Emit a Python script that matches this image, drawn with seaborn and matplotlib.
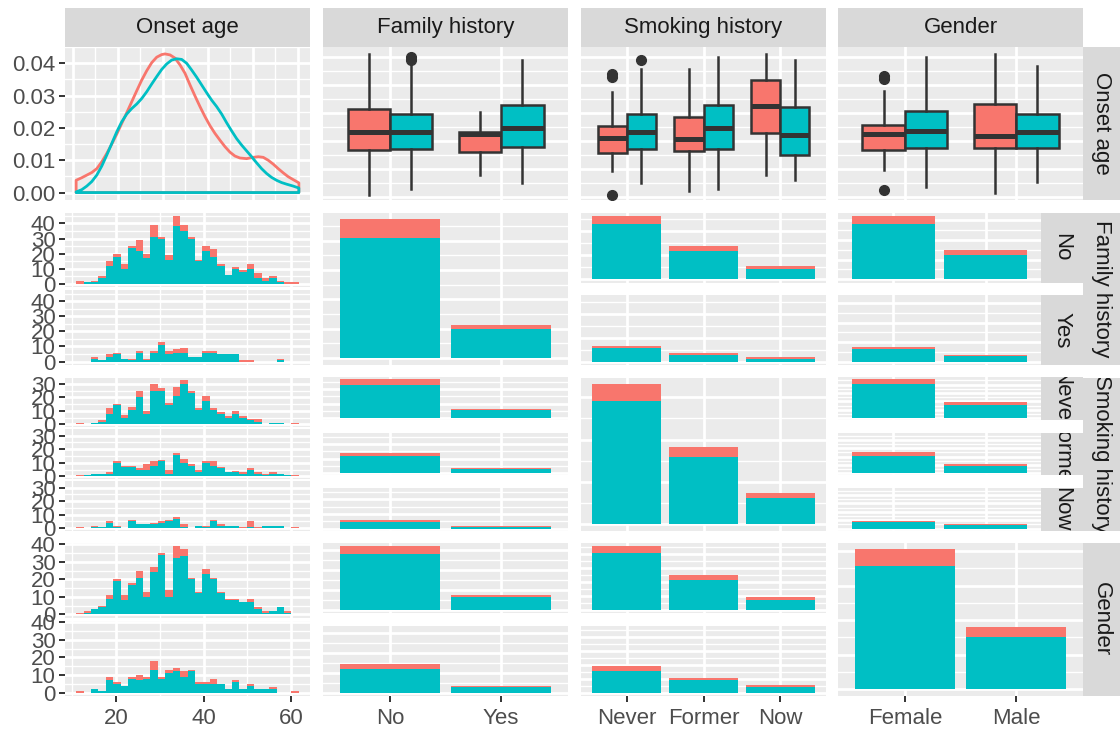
import numpy as np
import pandas as pd
import matplotlib
matplotlib.use("Agg")
import matplotlib.pyplot as plt
from matplotlib.ticker import (MultipleLocator, FixedLocator, NullLocator,
                               FormatStrFormatter, FixedFormatter)
import seaborn as sns

plt.rcParams["font.family"] = ["Liberation Sans", "DejaVu Sans"]

# ------------------------------------------------------------------ data
status_levels = ["case", "control"]
palette = {"case": "#F8766D", "control": "#00BFC4"}

variables = ["Onset age", "Family history", "Smoking history", "Gender"]
family_levels = ["No", "Yes"]
smoking_levels = ["Never", "Former", "Now"]
gender_levels = ["Female", "Male"]

# onset-age histograms: 30 bins spanning this range
age_bin_lo, age_bin_hi = 10.86, 61.80

hist_famNo_case = [2, 0, 1, 1, 3, 2, 3, 1, 7, 3, 8, 1, 3, 7, 4, 1, 1, 3, 5, 1, 0, 1, 1, 3, 3, 2, 1, 1, 1, 1]
hist_famNo_control = [0, 1, 1, 4, 12, 18, 10, 24, 22, 17, 31, 30, 16, 38, 35, 30, 15, 22, 18, 12, 6, 10, 8, 10, 4, 2, 4, 1, 0, 0]
hist_famYes_case = [0, 0, 1, 0, 2, 1, 0, 1, 1, 1, 1, 2, 2, 2, 3, 0, 0, 1, 1, 0, 0, 0, 1, 1, 0, 0, 0, 1, 0, 0]
hist_famYes_control = [0, 0, 2, 1, 3, 5, 2, 1, 6, 1, 6, 11, 5, 6, 6, 3, 3, 6, 6, 5, 5, 5, 0, 0, 0, 0, 0, 1, 0, 0]

hist_never_case = [1, 0, 0, 1, 4, 1, 2, 2, 5, 2, 5, 2, 2, 7, 3, 2, 1, 4, 1, 1, 1, 2, 1, 1, 2, 0, 0, 0, 0, 1]
hist_never_control = [0, 0, 1, 2, 8, 14, 5, 11, 20, 8, 25, 25, 14, 21, 30, 23, 11, 17, 11, 8, 5, 8, 5, 3, 2, 0, 1, 1, 0, 0]
hist_former_case = [1, 0, 0, 0, 1, 1, 1, 1, 1, 4, 3, 1, 3, 1, 3, 1, 2, 1, 3, 1, 0, 1, 1, 1, 1, 1, 1, 0, 0, 1]
hist_former_control = [0, 1, 2, 2, 2, 10, 7, 7, 5, 5, 8, 11, 2, 16, 10, 8, 3, 10, 8, 6, 3, 3, 2, 5, 2, 1, 2, 2, 1, 0]
hist_now_case = [1, 0, 1, 0, 1, 1, 0, 1, 0, 0, 1, 1, 1, 1, 2, 0, 0, 1, 1, 1, 0, 0, 1, 4, 1, 0, 0, 0, 0, 1]
hist_now_control = [0, 0, 1, 1, 4, 1, 0, 5, 3, 3, 3, 4, 5, 7, 1, 0, 2, 1, 5, 2, 2, 2, 0, 1, 0, 2, 2, 2, 0, 0]

hist_female_case = [1, 1, 0, 1, 2, 1, 3, 1, 4, 3, 3, 1, 4, 7, 4, 1, 1, 3, 1, 1, 1, 1, 0, 2, 1, 1, 0, 0, 1, 0]
hist_female_control = [0, 1, 3, 4, 9, 19, 8, 17, 21, 10, 24, 34, 10, 32, 33, 20, 12, 23, 20, 12, 8, 8, 7, 7, 3, 1, 2, 4, 1, 0]
hist_male_case = [1, 0, 0, 0, 2, 1, 0, 1, 3, 1, 5, 1, 2, 2, 3, 1, 1, 1, 3, 0, 0, 1, 0, 1, 0, 0, 1, 0, 0, 1]
hist_male_control = [0, 0, 2, 1, 7, 5, 4, 8, 7, 8, 13, 8, 11, 12, 9, 12, 5, 5, 5, 5, 2, 6, 2, 4, 2, 2, 2, 0, 0, 0]

# onset-age density curves
dens_case_age = [10.77, 12.03, 13.13, 14.24, 15.35, 16.46, 17.57, 18.68, 19.79, 20.89, 22.00,
                 23.11, 24.22, 25.33, 26.44, 27.55, 28.66, 29.76, 30.50, 31.61, 32.72, 33.83,
                 34.94, 36.05, 37.15, 38.26, 39.37, 40.48, 41.59, 42.70, 43.81, 44.92, 46.02,
                 47.13, 48.61, 50.09, 51.20, 52.31, 53.41, 54.52, 55.63, 56.74, 57.85, 58.96, 60.21]
dens_case_val = [0.0038, 0.0046, 0.0054, 0.0062, 0.0074, 0.0095, 0.0121, 0.0150, 0.0181, 0.0214,
                 0.0247, 0.0281, 0.0315, 0.0348, 0.0377, 0.0402, 0.0419, 0.0427, 0.0429, 0.0426,
                 0.0416, 0.0395, 0.0369, 0.0333, 0.0299, 0.0266, 0.0235, 0.0207, 0.0183, 0.0162,
                 0.0142, 0.0125, 0.0113, 0.0107, 0.0105, 0.0109, 0.0111, 0.0109, 0.0100, 0.0088,
                 0.0074, 0.0061, 0.0049, 0.0040, 0.0030]
dens_control_age = [10.77, 12.03, 13.13, 14.24, 15.35, 16.46, 17.57, 18.68, 19.79, 20.89, 22.00,
                    23.11, 24.22, 25.33, 26.44, 27.55, 28.66, 29.76, 30.87, 31.98, 33.09, 34.20,
                    35.31, 36.42, 37.52, 38.63, 39.74, 40.85, 41.96, 43.07, 44.18, 45.28, 46.39,
                    47.50, 48.61, 49.72, 50.83, 51.94, 53.05, 54.15, 55.26, 56.37, 57.48, 58.96, 60.21]
dens_control_val = [0.0002, 0.0009, 0.0020, 0.0034, 0.0054, 0.0082, 0.0116, 0.0152, 0.0188, 0.0219,
                    0.0243, 0.0260, 0.0274, 0.0291, 0.0312, 0.0336, 0.0359, 0.0381, 0.0398, 0.0410,
                    0.0414, 0.0412, 0.0400, 0.0379, 0.0357, 0.0333, 0.0309, 0.0286, 0.0266, 0.0243,
                    0.0216, 0.0191, 0.0167, 0.0147, 0.0129, 0.0111, 0.0092, 0.0074, 0.0059, 0.0047,
                    0.0038, 0.0031, 0.0026, 0.0020, 0.0014]

# onset-age box statistics: (lower whisker, Q1, median, Q3, upper whisker)
box_family_case = [(10.8, 27.0, 33.2, 41.5, 60.9), (18.1, 26.2, 32.6, 33.4, 40.3)]
box_family_control = [(13.1, 27.1, 33.4, 39.7, 56.8), (14.9, 28.0, 34.8, 42.7, 58.7)]
out_family_case = [[], []]
out_family_control = [[58.9, 59.8], []]

box_smoking_case = [(19.2, 25.8, 31.2, 35.4, 47.5), (12.1, 26.5, 30.8, 38.5, 55.7),
                    (18.1, 32.8, 42.5, 51.7, 60.9)]
box_smoking_control = [(15.1, 27.1, 33.4, 39.7, 55.7), (12.9, 27.1, 34.6, 42.7, 60.0),
                       (16.2, 25.2, 32.2, 42.2, 58.7)]
out_smoking_case = [[10.8, 52.9, 53.9], [], []]
out_smoking_control = [[59.0], [], []]

box_gender_case = [(19.8, 26.7, 32.7, 35.9, 47.8), (11.6, 27.5, 31.7, 43.1, 60.9)]
box_gender_control = [(13.6, 27.7, 33.6, 40.7, 59.8), (15.6, 27.7, 33.2, 39.8, 56.8)]
out_gender_case = [[12.7, 52.0, 53.0], []]
out_gender_control = [[], []]

# counts for the bar panels
family_case = [62, 14]
family_control = [410, 98]
smoking_case = [39, 23, 12]
smoking_control = [292, 158, 60]
gender_case = [48, 29]
gender_control = [357, 150]

# rows: family level, columns: smoking level
fam_smk_case = [[36, 21, 13], [9, 8, 6]]
fam_smk_control = [[229, 119, 44], [57, 29, 13]]
# rows: gender level, columns: family level
gen_fam_case = [[41, 10], [26, 5]]
gen_fam_control = [[283, 67], [122, 29]]
# rows: gender level, columns: smoking level
gen_smk_case = [[27, 19, 8], [18, 9, 8]]
gen_smk_control = [[204, 106, 37], [80, 46, 21]]

# ------------------------------------------------------------------ styling
W, H = 1120, 730
PANEL_BG = "#EBEBEB"
STRIP_BG = "#D9D9D9"
INK = "#333333"
FS = 16

fig = plt.figure(figsize=(W / 100, H / 100), dpi=100)

COLS = [(65, 310), (323, 568), (581, 826), (838, 1083)]
ROWS = [(47, 199.5), (212.5, 365), (377.5, 530.5), (542.5, 696)]
TOP_STRIP = (8, 47)
INNER_STRIP = (1041, 1083)
OUTER_STRIP = (1083, 1120)
HIST_GAP, BAR_GAP = 2.7, 12.5


def frame(x0, y0, x1, y1):
    return fig.add_axes([x0 / W, 1 - y1 / H, (x1 - x0) / W, (y1 - y0) / H])


def panel(x0, y0, x1, y1):
    ax = frame(x0, y0, x1, y1)
    ax.set_facecolor(PANEL_BG)
    for s in ax.spines.values():
        s.set_visible(False)
    ax.set_axisbelow(True)
    ax.tick_params(which="both", length=0, labelleft=False, labelbottom=False)
    return ax


def split(y0, y1, k, gap):
    h = (y1 - y0 - (k - 1) * gap) / k
    return [(y0 + i * (h + gap), y0 + i * (h + gap) + h) for i in range(k)]


def grid(ax, xmaj, xmin, ymaj, ymin):
    ax.xaxis.set_major_locator(xmaj)
    ax.xaxis.set_minor_locator(xmin if xmin is not None else NullLocator())
    ax.yaxis.set_major_locator(ymaj)
    ax.yaxis.set_minor_locator(ymin if ymin is not None else NullLocator())
    ax.grid(True, which="major", color="white", linewidth=2.0)
    ax.grid(True, which="minor", color="white", linewidth=1.0)
    ax.tick_params(which="minor", length=0)


def show_axis(ax, axis):
    kw = dict(axis=axis, which="major", length=4.3, width=1.4, color=INK,
              labelcolor="#4D4D4D", labelsize=FS)
    if axis == "y":
        kw.update(labelleft=True, pad=2.5)
    else:
        kw.update(labelbottom=True, pad=4.0)
    ax.tick_params(**kw)


def nice_step(top):
    for s in (1, 2, 5, 10, 20, 50, 100, 200, 500):
        if top / s <= 5:
            return s
    return 1000


def strip(x0, y0, x1, y1, label, vertical=False):
    ax = frame(x0, y0, x1, y1)
    ax.set_facecolor(STRIP_BG)
    ax.set_xticks([])
    ax.set_yticks([])
    for s in ax.spines.values():
        s.set_visible(False)
    ax.text(0.5, 0.5, label, transform=ax.transAxes, ha="center", va="center",
            rotation=-90 if vertical else 0, color="#1A1A1A", fontsize=FS,
            clip_on=True)


edges = np.linspace(age_bin_lo, age_bin_hi, 31)
centers = (edges[:-1] + edges[1:]) / 2
hist_pad = 0.05 * (age_bin_hi - age_bin_lo)


def hist_column(y0, y1, groups, last_row=False):
    top = max(max(np.add(c, k)) for c, k in groups)
    spans = split(y0, y1, len(groups), HIST_GAP)
    step = nice_step(top)
    for i, ((case, control), (a, b)) in enumerate(zip(groups, spans)):
        ax = panel(COLS[0][0], a, COLS[0][1], b)
        df = pd.DataFrame({
            "age": np.concatenate([centers, centers]),
            "n": list(case) + list(control),
            "status": ["case"] * len(case) + ["control"] * len(control),
        })
        sns.histplot(data=df, x="age", weights="n", hue="status",
                     hue_order=status_levels, bins=list(edges), multiple="stack",
                     palette=palette, alpha=1, linewidth=0, legend=False, ax=ax)
        ax.set_xlim(age_bin_lo - hist_pad, age_bin_hi + hist_pad)
        ax.set_ylim(-0.05 * top, 1.05 * top)
        grid(ax, MultipleLocator(20), MultipleLocator(10),
             MultipleLocator(step), MultipleLocator(step / 2))
        ax.yaxis.set_major_formatter(FormatStrFormatter("%d"))
        ax.set_xlabel("")
        ax.set_ylabel("")
        show_axis(ax, "y")
        if last_row and i == len(groups) - 1:
            ax.xaxis.set_major_formatter(FormatStrFormatter("%d"))
            show_axis(ax, "x")


def bar_column(col, y0, y1, groups, levels, x1=None, last_row=False):
    n = len(levels)
    top = max(max(np.add(c, k)) for c, k in groups)
    spans = split(y0, y1, len(groups), BAR_GAP)
    step = nice_step(top)
    right = COLS[col][1] if x1 is None else x1
    for i, ((case, control), (a, b)) in enumerate(zip(groups, spans)):
        ax = panel(COLS[col][0], a, right, b)
        df = pd.DataFrame({
            "pos": list(range(n)) * 2,
            "n": list(case) + list(control),
            "status": ["case"] * n + ["control"] * n,
        })
        sns.histplot(data=df, x="pos", weights="n", hue="status",
                     hue_order=status_levels, discrete=True, shrink=0.9,
                     multiple="stack", palette=palette, alpha=1, linewidth=0,
                     legend=False, ax=ax)
        ax.set_xlim(-0.6, n - 0.4)
        ax.set_ylim(-0.05 * top, 1.05 * top)
        grid(ax, FixedLocator(range(n)), None,
             MultipleLocator(step), MultipleLocator(step / 2))
        ax.set_xlabel("")
        ax.set_ylabel("")
        if last_row and i == len(groups) - 1:
            ax.xaxis.set_major_formatter(FixedFormatter(levels))
            show_axis(ax, "x")
    return spans


def box_panel(col, levels, case_stats, control_stats, case_out, control_out):
    ax = panel(COLS[col][0], ROWS[0][0], COLS[col][1], ROWS[0][1])
    n = len(levels)
    for status, stats, outs, shift in (("case", case_stats, case_out, -0.19),
                                       ("control", control_stats, control_out, 0.19)):
        bx = [dict(whislo=s[0], q1=s[1], med=s[2], q3=s[3], whishi=s[4],
                   fliers=np.array(o)) for s, o in zip(stats, outs)]
        ax.bxp(bx, positions=np.arange(n) + shift, widths=0.38, patch_artist=True,
               showcaps=False, manage_ticks=False,
               boxprops=dict(facecolor=palette[status], edgecolor=INK, linewidth=1.8),
               whiskerprops=dict(color=INK, linewidth=1.8),
               medianprops=dict(color=INK, linewidth=3.6, solid_capstyle="butt"),
               flierprops=dict(marker="o", markerfacecolor=INK, markeredgecolor=INK,
                               markersize=7))
    ax.set_xlim(-0.6, n - 0.4)
    ax.set_ylim(9.2, 63.5)
    grid(ax, FixedLocator(range(n)), None, MultipleLocator(10), MultipleLocator(5))


# ---- row 1: density + boxplots
ax = panel(COLS[0][0], ROWS[0][0], COLS[0][1], ROWS[0][1])
for status, xs, ys in (("case", dens_case_age, dens_case_val),
                       ("control", dens_control_age, dens_control_val)):
    px = [xs[0]] + list(xs) + [xs[-1], xs[0]]
    py = [0.0] + list(ys) + [0.0, 0.0]
    ax.fill(px, py, facecolor="none", edgecolor=palette[status], linewidth=2.0,
            joinstyle="round")
dmax = max(max(dens_case_val), max(dens_control_val))
dpad = 0.05 * (dens_case_age[-1] - dens_case_age[0])
ax.set_xlim(dens_case_age[0] - dpad, dens_case_age[-1] + dpad)
ax.set_ylim(-0.05 * dmax, 1.05 * dmax)
grid(ax, MultipleLocator(10), MultipleLocator(5), MultipleLocator(0.01), MultipleLocator(0.005))
ax.yaxis.set_major_formatter(FormatStrFormatter("%.2f"))
show_axis(ax, "y")

box_panel(1, family_levels, box_family_case, box_family_control,
          out_family_case, out_family_control)
box_panel(2, smoking_levels, box_smoking_case, box_smoking_control,
          out_smoking_case, out_smoking_control)
box_panel(3, gender_levels, box_gender_case, box_gender_control,
          out_gender_case, out_gender_control)

# ---- row 2: family history facets
hist_column(*ROWS[1], [(hist_famNo_case, hist_famNo_control),
                       (hist_famYes_case, hist_famYes_control)])
bar_column(1, *ROWS[1], [(family_case, family_control)], family_levels)
bar_column(2, *ROWS[1], [(fam_smk_case[i], fam_smk_control[i]) for i in range(2)],
           smoking_levels)
spans = bar_column(3, *ROWS[1],
                   [([gen_fam_case[g][i] for g in range(2)],
                     [gen_fam_control[g][i] for g in range(2)]) for i in range(2)],
                   gender_levels, x1=INNER_STRIP[0])
for (a, b), lab in zip(spans, family_levels):
    strip(INNER_STRIP[0], a, INNER_STRIP[1], b, lab, vertical=True)

# ---- row 3: smoking history facets
hist_column(*ROWS[2], [(hist_never_case, hist_never_control),
                       (hist_former_case, hist_former_control),
                       (hist_now_case, hist_now_control)])
bar_column(1, *ROWS[2],
           [([fam_smk_case[f][i] for f in range(2)],
             [fam_smk_control[f][i] for f in range(2)]) for i in range(3)],
           family_levels)
bar_column(2, *ROWS[2], [(smoking_case, smoking_control)], smoking_levels)
spans = bar_column(3, *ROWS[2],
                   [([gen_smk_case[g][i] for g in range(2)],
                     [gen_smk_control[g][i] for g in range(2)]) for i in range(3)],
                   gender_levels, x1=INNER_STRIP[0])
for (a, b), lab in zip(spans, smoking_levels):
    strip(INNER_STRIP[0], a, INNER_STRIP[1], b, lab, vertical=True)

# ---- row 4: gender facets
hist_column(*ROWS[3], [(hist_female_case, hist_female_control),
                       (hist_male_case, hist_male_control)], last_row=True)
bar_column(1, *ROWS[3], [(gen_fam_case[i], gen_fam_control[i]) for i in range(2)],
           family_levels, last_row=True)
bar_column(2, *ROWS[3], [(gen_smk_case[i], gen_smk_control[i]) for i in range(2)],
           smoking_levels, last_row=True)
bar_column(3, *ROWS[3], [(gender_case, gender_control)], gender_levels, last_row=True)

# ---- strips
for (x0, x1), lab in zip(COLS, variables):
    strip(x0, TOP_STRIP[0], x1, TOP_STRIP[1], lab)
for (y0, y1), lab in zip(ROWS, variables):
    strip(OUTER_STRIP[0], y0, OUTER_STRIP[1], y1, lab, vertical=True)

fig.savefig("out.png", dpi=100)
